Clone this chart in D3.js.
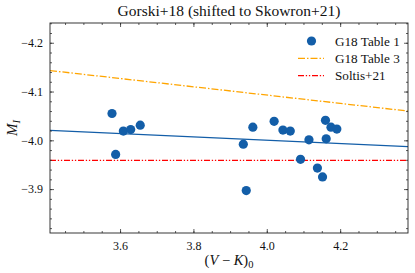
<!DOCTYPE html>
<html>
<head>
<meta charset="utf-8">
<script src="https://cdn.jsdelivr.net/npm/d3@7"></script>
<style>
  body { margin: 0; background: #fff; }
  text { font-family: "Liberation Serif", "DejaVu Serif", serif; fill: #111; }
</style>
</head>
<body>
<script>
// G18 Table 1 points: colour (V-K)_0 and M_I
var colorVK = [3.578, 3.588, 3.609, 3.629, 3.655, 3.936, 3.944, 3.962, 4.020, 4.044,
               4.064, 4.092, 4.115, 4.138, 4.152, 4.160, 4.162, 4.175, 4.191];
var magI    = [-4.055, -3.971, -4.019, -4.022, -4.031, -3.992, -3.897, -4.027, -4.039, -4.021,
               -4.019, -3.961, -4.001, -3.943, -3.925, -4.041, -4.003, -4.027, -4.023];

// straight lines, given by their value at the two ends of the x range
var fitEnds   = [-4.0205, -3.987];   // blue fit
var table3Ends = [-4.143, -4.060];   // G18 Table 3
var soltisLevel = -3.959;            // Soltis+21

var xTicks = [3.6, 3.8, 4.0, 4.2];
var yTicks = [-4.2, -4.1, -4.0, -3.9];
var legendLabels = ["G18 Table 1", "G18 Table 3", "Soltis+21"];

var width = 415, height = 273;
var margin = {left: 50, right: 7, top: 23, bottom: 40};

var svg = d3.select("body").append("svg")
  .attr("width", width)
  .attr("height", height);

var xDom = [3.409, 4.385];
var x = d3.scaleLinear().domain(xDom).range([margin.left, width - margin.right]);
var y = d3.scaleLinear().domain([-3.810, -4.2405]).range([height - margin.bottom, margin.top]);

var blue = "#135ea8", orange = "#ffa500", red = "#ff0000";

var clip = svg.append("clipPath").attr("id", "clip").append("rect")
  .attr("x", x.range()[0]).attr("y", margin.top)
  .attr("width", x.range()[1] - x.range()[0])
  .attr("height", height - margin.bottom - margin.top);

var plot = svg.append("g").attr("clip-path", "url(#clip)");

var line = d3.line().x(function(d) { return x(d[0]); }).y(function(d) { return y(d[1]); });

// Table 3 (dash-dot)
plot.append("path")
  .attr("d", line([[xDom[0], table3Ends[0]], [xDom[1], table3Ends[1]]]))
  .attr("stroke", orange).attr("stroke-width", 1.3).attr("fill", "none")
  .attr("stroke-dasharray", "7,2,1.5,2");

// Soltis (dash-dot-dot)
plot.append("path")
  .attr("d", line([[xDom[0], soltisLevel], [xDom[1], soltisLevel]]))
  .attr("stroke", red).attr("stroke-width", 1.3).attr("fill", "none")
  .attr("stroke-dasharray", "6,1.8,1.3,1.8,1.3,1.8");

// fit
plot.append("path")
  .attr("d", line([[xDom[0], fitEnds[0]], [xDom[1], fitEnds[1]]]))
  .attr("stroke", blue).attr("stroke-width", 1.3).attr("fill", "none");

// points
plot.selectAll("circle.pt")
  .data(d3.zip(colorVK, magI))
  .enter().append("circle")
  .attr("class", "pt")
  .attr("cx", function(d) { return x(d[0]); })
  .attr("cy", function(d) { return y(d[1]); })
  .attr("r", 4.6)
  .attr("fill", blue);

/* axes: ticks inward on all four sides */
var fmt = function(d) { return d3.format(".1f")(d).replace("-", "\u2212"); };
var ih = height - margin.bottom - margin.top;
var iw = x.range()[1] - x.range()[0];

var xMinor = d3.range(3.45, 4.39, 0.05);
var yMinor = d3.range(-4.24, -3.81, 0.02);
var noDomain = function(g) { g.select(".domain").remove(); };

svg.append("g").attr("transform", "translate(0," + (height - margin.bottom) + ")")
  .call(d3.axisBottom(x).tickValues(xTicks).tickFormat(fmt).tickSizeInner(-4).tickPadding(8))
  .call(noDomain);
svg.append("g").attr("transform", "translate(0," + (height - margin.bottom) + ")")
  .call(d3.axisBottom(x).tickValues(xMinor).tickFormat("").tickSizeInner(-2))
  .call(noDomain);
svg.append("g").attr("transform", "translate(0," + margin.top + ")")
  .call(d3.axisTop(x).tickValues(xTicks).tickFormat("").tickSizeInner(-4))
  .call(noDomain);
svg.append("g").attr("transform", "translate(0," + margin.top + ")")
  .call(d3.axisTop(x).tickValues(xMinor).tickFormat("").tickSizeInner(-2))
  .call(noDomain);

svg.append("g").attr("transform", "translate(" + margin.left + ",0)")
  .call(d3.axisLeft(y).tickValues(yTicks).tickFormat(fmt).tickSizeInner(-4).tickPadding(7))
  .call(noDomain);
svg.append("g").attr("transform", "translate(" + margin.left + ",0)")
  .call(d3.axisLeft(y).tickValues(yMinor).tickFormat("").tickSizeInner(-2))
  .call(noDomain);
svg.append("g").attr("transform", "translate(" + x.range()[1] + ",0)")
  .call(d3.axisRight(y).tickValues(yTicks).tickFormat("").tickSizeInner(-4))
  .call(noDomain);
svg.append("g").attr("transform", "translate(" + x.range()[1] + ",0)")
  .call(d3.axisRight(y).tickValues(yMinor).tickFormat("").tickSizeInner(-2))
  .call(noDomain);

svg.selectAll(".tick text").attr("font-size", 12)
  .attr("font-family", "Liberation Serif, serif").attr("fill", "#111");
svg.selectAll(".tick line").attr("stroke", "#333").attr("stroke-width", 0.8);

svg.append("rect")
  .attr("x", margin.left).attr("y", margin.top)
  .attr("width", iw).attr("height", ih)
  .attr("fill", "none").attr("stroke", "#222").attr("stroke-width", 0.9);

// title and axis labels
svg.append("text")
  .attr("x", (x.range()[0] + x.range()[1]) / 2).attr("y", 16)
  .attr("text-anchor", "middle").attr("font-size", 15.5)
  .text("Gorski+18 (shifted to Skowron+21)");

var xl = svg.append("text")
  .attr("x", (x.range()[0] + x.range()[1]) / 2).attr("y", 265)
  .attr("text-anchor", "middle").attr("font-size", 14.5);
xl.append("tspan").text("(");
xl.append("tspan").attr("font-style", "italic").text("V");
xl.append("tspan").text(" \u2212 ");
xl.append("tspan").attr("font-style", "italic").text("K");
xl.append("tspan").text(")");
xl.append("tspan").attr("font-size", 10.5).attr("dy", 3).text("0");

var yl = svg.append("text")
  .attr("transform", "translate(17," + (margin.top + ih / 2) + ") rotate(-90)")
  .attr("text-anchor", "middle").attr("font-size", 15);
yl.append("tspan").attr("font-style", "italic").text("M");
yl.append("tspan").attr("font-style", "italic").attr("font-size", 10.5).attr("dy", 3).text("I");

// legend
var lg = svg.append("g").attr("transform", "translate(298,41)");
var rows = lg.selectAll("g").data(legendLabels).enter().append("g")
  .attr("transform", function(d, i) { return "translate(0," + (i * 17.3) + ")"; });
rows.append("text").attr("x", 37).attr("y", 4.5).attr("font-size", 13.2)
  .text(function(d) { return d; });
rows.filter(function(d, i) { return i === 0; }).append("circle")
  .attr("cx", 13.5).attr("cy", 0).attr("r", 4.6).attr("fill", blue);
rows.filter(function(d, i) { return i === 1; }).append("line")
  .attr("x1", 0).attr("x2", 26).attr("y1", 0).attr("y2", 0)
  .attr("stroke", orange).attr("stroke-width", 1.3).attr("stroke-dasharray", "7,2,1.5,2");
rows.filter(function(d, i) { return i === 2; }).append("line")
  .attr("x1", 0).attr("x2", 26).attr("y1", 0).attr("y2", 0)
  .attr("stroke", red).attr("stroke-width", 1.3).attr("stroke-dasharray", "6,1.8,1.3,1.8,1.3,1.8");
</script>
</body>
</html>
